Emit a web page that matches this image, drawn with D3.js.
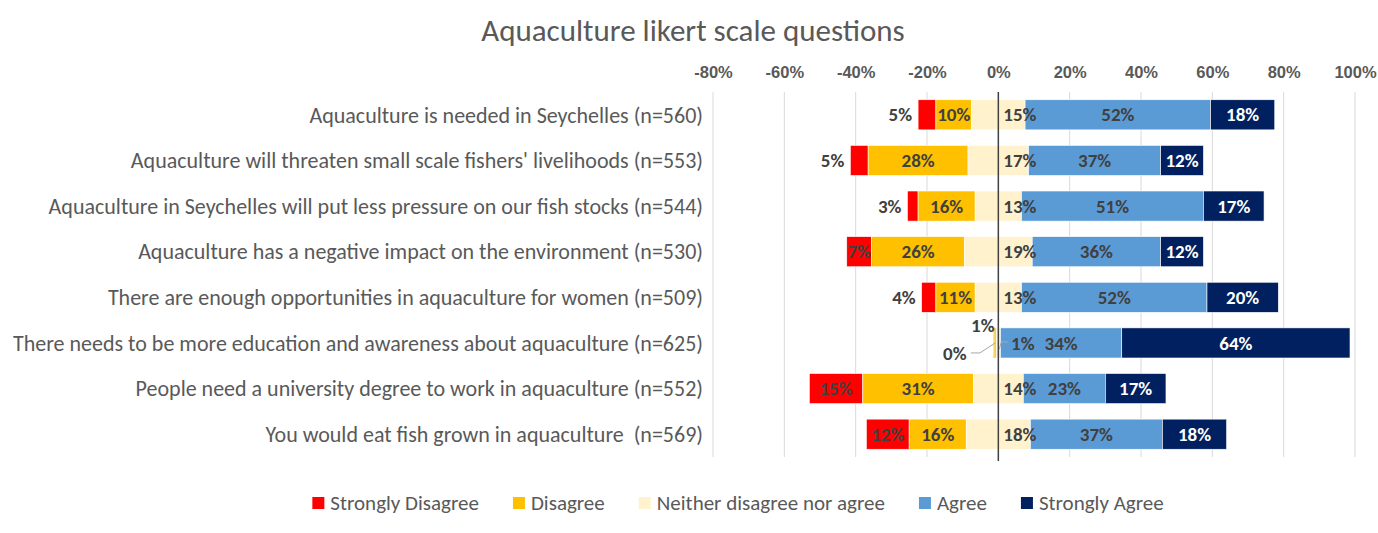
<!DOCTYPE html>
<html>
<head>
<meta charset="utf-8">
<script src="https://cdn.jsdelivr.net/npm/d3@7"></script>
<style>
  body { margin: 0; background: #fff; }
  svg { font-family: Carlito, Calibri, "Liberation Sans Narrow", "Open Sans", sans-serif; }
</style>
</head>
<body>
<svg id="chart"></svg>
<script>
// questions, top to bottom
const questions = [
  "Aquaculture is needed in Seychelles (n=560)",
  "Aquaculture will threaten small scale fishers' livelihoods (n=553)",
  "Aquaculture in Seychelles will put less pressure on our fish stocks (n=544)",
  "Aquaculture has a negative impact on the environment (n=530)",
  "There are enough opportunities in aquaculture for women (n=509)",
  "There needs to be more education and awareness about aquaculture (n=625)",
  "People need a university degree to work in aquaculture (n=552)",
  "You would eat fish grown in aquaculture  (n=569)"
];
// percentages per answer
const stronglyDisagree = [5, 5, 3, 7, 4, 0.2, 15, 12];
const disagree         = [10, 28, 16, 26, 11, 0.6, 31, 16];
const neutral          = [15, 17, 13, 19, 13, 1.2, 14, 18];
const agree            = [52, 37, 51, 36, 52, 34, 23, 37];
const stronglyAgree    = [18, 12, 17, 12, 20, 64, 17, 18];

const seriesNames = ["Strongly Disagree", "Disagree", "Neither disagree nor agree", "Agree", "Strongly Agree"];
const seriesColors = ["#ff0000", "#ffc000", "#fff2cc", "#5b9bd5", "#002060"];
const labelColors = ["#404040", "#404040", "#404040", "#404040", "#ffffff"];
const tickValues = [-0.8, -0.6, -0.4, -0.2, 0, 0.2, 0.4, 0.6, 0.8, 1.0];

const W = 1378, H = 533;
const svg = d3.select("#chart").attr("width", W).attr("height", H);

const x = d3.scaleLinear().domain([-0.8, 1.0]).range([713, 1355]);
const y = d3.scaleBand().domain(questions).range([92, 457]).paddingInner(0.34).paddingOuter(0.17);

// title
svg.append("text")
  .attr("x", 693).attr("y", 41)
  .attr("text-anchor", "middle")
  .attr("font-size", 31)
  .attr("fill", "#595959")
  .text("Aquaculture likert scale questions");

// grid
svg.append("g").selectAll("line").data(tickValues).enter().append("line")
  .attr("x1", d => x(d)).attr("x2", d => x(d))
  .attr("y1", 92).attr("y2", 457)
  .attr("stroke", d => d === 0 ? "none" : "#d9d9d9")
  .attr("stroke-width", 1);

// top axis
const pct = d => Math.round(d * 100) + "%";
const xAxis = d3.axisTop(x).tickValues(tickValues).tickFormat(pct).tickSize(0);
const axG = svg.append("g").attr("transform", "translate(0,81)").call(xAxis);
axG.select(".domain").remove();
axG.selectAll("text")
  .attr("font-size", 16.5).attr("font-weight", "bold")
  .attr("fill", "#595959").attr("font-family", null);

// build stacked segments
const rows = questions.map((q, i) => {
  const vals = [stronglyDisagree[i], disagree[i], neutral[i], agree[i], stronglyAgree[i]].map(v => v / 100);
  let left = -(vals[0] + vals[1] + vals[2] / 2);
  const segs = vals.map((v, k) => {
    const s = { q, k, v, x0: left, x1: left + v, row: i };
    left += v;
    return s;
  });
  return segs;
});
const segs = rows.flat();

svg.append("g").selectAll("rect").data(segs).enter().append("rect")
  .attr("x", d => x(d.x0))
  .attr("y", d => y(d.q))
  .attr("width", d => Math.max(0, x(d.x1) - x(d.x0)))
  .attr("height", y.bandwidth())
  .attr("fill", d => seriesColors[d.k])
  .attr("stroke", "#ffffff")
  .attr("stroke-width", 0.6);

// zero line
svg.append("line")
  .attr("x1", x(0)).attr("x2", x(0))
  .attr("y1", 92).attr("y2", 461)
  .attr("stroke", "#404040").attr("stroke-width", 1.5);

// labels - special placements for tiny segments (offset from the zero line)
const labelNudge = {
  "5-0": { x: -43.5, dy: 10, leader: true },
  "5-1": { x: -15.5, dy: -18 },
  "5-2": { x: 24.5, dy: 0 }
};

const labelG = svg.append("g");
segs.forEach(d => {
  const key = d.row + "-" + d.k;
  const cy = y(d.q) + y.bandwidth() / 2;
  let lx, anchor = "middle", dy = 0;
  if (labelNudge[key]) {
    lx = x(0) + labelNudge[key].x;
    dy = labelNudge[key].dy;
    if (labelNudge[key].leader) {
      labelG.append("path")
        .attr("d", `M${lx + 16},${cy + dy} L${lx + 25},${cy + dy} L${x(0) - 3},${cy}`)
        .attr("fill", "none").attr("stroke", "#a6a6a6").attr("stroke-width", 1);
      labelG.append("path")
        .attr("d", `M${x(0) + 10},${cy - 1} L${x(0) + 3},${cy - 1} L${x(0) + 1},${cy + 6}`)
        .attr("fill", "none").attr("stroke", "#a6a6a6").attr("stroke-width", 1);
    }
  } else if (d.k === 0 && d.v < 0.06) {
    lx = x(d.x0) - 6; anchor = "end";
  } else if (d.k === 2) {
    // neutral label sits on the right half
    lx = x(0) + 5; anchor = "start";
  } else {
    lx = (x(d.x0) + x(d.x1)) / 2;
  }
  labelG.append("text")
    .attr("x", lx).attr("y", cy + dy)
    .attr("dy", "0.35em")
    .attr("text-anchor", anchor)
    .attr("font-size", 19).attr("font-weight", "bold")
    .attr("fill", labelColors[d.k])
    .text(pct(d.v));
});

// category labels
svg.append("g").selectAll("text").data(questions).enter().append("text")
  .attr("x", 703)
  .attr("y", d => y(d) + y.bandwidth() / 2)
  .attr("dy", "0.35em")
  .attr("text-anchor", "end")
  .attr("font-size", 22)
  .attr("fill", "#595959")
  .attr("xml:space", "preserve")
  .style("white-space", "pre")
  .text(d => d);

// legend
const legend = svg.append("g");
let lxPos = 0;
seriesNames.forEach((name, k) => {
  const g = legend.append("g");
  g.append("rect").attr("x", 0).attr("y", -6).attr("width", 12).attr("height", 12)
    .attr("fill", seriesColors[k]);
  const t = g.append("text").attr("x", 18).attr("y", 0).attr("dy", "0.35em")
    .attr("font-size", 21).attr("fill", "#595959").text(name);
  const w = 18 + t.node().getComputedTextLength();
  g.attr("transform", `translate(${lxPos},0)`);
  lxPos += w + 34;
});
const totalW = lxPos - 34;
legend.attr("transform", `translate(${738 - totalW / 2},503)`);
</script>
</body>
</html>
